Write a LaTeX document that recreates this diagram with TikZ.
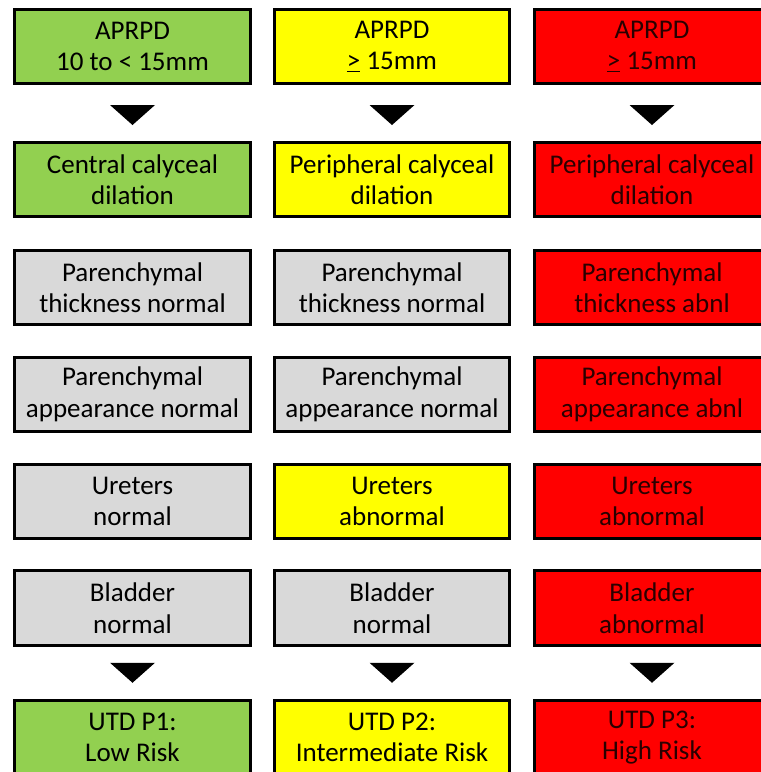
\documentclass[tikz,border=0pt]{standalone}
\usepackage{fontspec}
\setmainfont{Carlito}
\usetikzlibrary{calc}
\definecolor{gboxfill}{HTML}{92D050}
\definecolor{yboxfill}{HTML}{FFFF00}
\definecolor{rboxfill}{HTML}{FF0000}
\definecolor{nboxfill}{HTML}{D9D9D9}
\definecolor{rtext}{HTML}{2A0000}
\tikzset{
  box/.style={draw=black, line width=3pt, rectangle, minimum width=235.5pt, minimum height=74.5pt,
    inner sep=0pt, align=center, font=\fontsize{27}{31.5}\selectfont, text=black},
  gbox/.style={box, fill=gboxfill},
  ybox/.style={box, fill=yboxfill},
  rbox/.style={box, fill=rboxfill, text=rtext},
  nbox/.style={box, fill=nboxfill},
  tri/.style={fill=black, draw=none}
}
\begin{document}
\begin{tikzpicture}[x=1pt,y=-1pt]
\useasboundingbox (0,0) rectangle (761,772);
\clip (0,0) rectangle (761,772);
\fill[white] (0,0) rectangle (761,772);
% column centres 132.5, 392, 652
\node[gbox] (a1) at (132.5,46.5) {APRPD\\10 to < 15mm};
\node[ybox] (b1) at (392,46.5) {APRPD\\\underline{>} 15mm};
\node[rbox] (c1) at (652,46.5) {APRPD\\\underline{>} 15mm};
\node[gbox] (a2) at (132.5,179.5) {Central calyceal\\dilation};
\node[ybox] (b2) at (392,179.5) {Peripheral calyceal\\dilation};
\node[rbox] (c2) at (652,179.5) {Peripheral calyceal\\dilation};
\node[nbox] (a3) at (132.5,287.5) {Parenchymal\\thickness normal};
\node[nbox] (b3) at (392,287.5) {Parenchymal\\thickness normal};
\node[rbox] (c3) at (652,287.5) {Parenchymal\\thickness abnl};
\node[nbox] (a4) at (132.5,394.5) {Parenchymal\\appearance normal};
\node[nbox] (b4) at (392,394.5) {Parenchymal\\appearance normal};
\node[rbox] (c4) at (652,394.5) {Parenchymal\\appearance abnl};
\node[nbox] (a5) at (132.5,501.5) {Ureters\\normal};
\node[ybox] (b5) at (392,501.5) {Ureters\\abnormal};
\node[rbox] (c5) at (652,501.5) {Ureters\\abnormal};
\node[nbox] (a6) at (132.5,608) {Bladder\\normal};
\node[nbox] (b6) at (392,608) {Bladder\\normal};
\node[rbox] (c6) at (652,608) {Bladder\\abnormal};
\node[gbox] (a7) at (132.5,737.5) {UTD P1:\\Low Risk};
\node[ybox] (b7) at (392,737.5) {UTD P2:\\Intermediate Risk};
\node[rbox] (c7) at (652,737.5) {UTD P3:\\High Risk};
% triangles
\foreach \u/\v/\dy in {a1/a2/2, b1/b2/2, c1/c2/2, a6/a7/0, b6/b7/0, c6/c7/0}{
  \coordinate (m) at ($(\u.south)!0.5!(\v.north)+(0,\dy)$);
  \fill[tri] ($(m)+(-22.5,-10)$) -- ($(m)+(22.5,-10)$) -- ($(m)+(0,10)$) -- cycle;
}
\end{tikzpicture}
\end{document}
